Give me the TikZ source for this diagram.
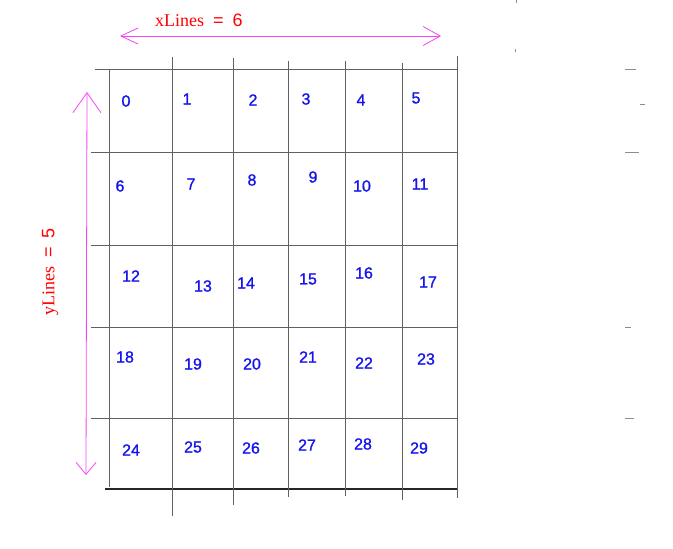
\documentclass[tikz,border=0pt]{standalone}
\usepackage{fontspec}
\setmainfont{Liberation Serif}
\setsansfont{Liberation Sans}
\newfontfamily\numfont[FakeBold=1.2]{Liberation Sans}
\usepackage{tikz}
\usetikzlibrary{arrows.meta}

\definecolor{spanpink}{RGB}{245,70,245}
\definecolor{cellblue}{RGB}{20,20,235}
\tikzset{
  gridline/.style={line width=0.9pt, black!62},
  cellnum/.style={text=cellblue, font=\numfont\fontsize{16}{16}\selectfont, inner sep=0pt},
  spanline/.style={spanpink, line width=0.8pt},
  spanlabel/.style={text=red, inner sep=0pt, font=\fontsize{18}{18}\selectfont},
  stray/.style={black!45, line width=1pt}
}

\begin{document}
\begin{tikzpicture}[x=1pt, y=-1pt]
\useasboundingbox (0,0) rectangle (673,549);
% rows
\draw[gridline] (95,69) -- (458,69);
\draw[gridline] (91,152) -- (458,152);
\draw[gridline] (91,245) -- (458,245);
\draw[gridline] (91,327) -- (458,327);
\draw[gridline] (91,418) -- (458,418);
\draw[line width=1.1pt, black!85] (105,489) -- (458,489);
% columns
\draw[gridline] (109,69) -- (109,487);
\draw[gridline] (172,57) -- (172,516);
\draw[gridline] (233,58) -- (233,505);
\draw[gridline] (288,61) -- (288,497);
\draw[gridline] (345,61) -- (345,496);
\draw[gridline] (402,63) -- (402,500);
\draw[gridline] (457,56) -- (457,498);
% cell numbers
\node[cellnum] (c0) at (126,101) {0};
\node[cellnum] (c1) at (187,99) {1};
\node[cellnum] (c2) at (253,100) {2};
\node[cellnum] (c3) at (306,99) {3};
\node[cellnum] (c4) at (361,100) {4};
\node[cellnum] (c5) at (416,98) {5};
\node[cellnum] (c6) at (120,186) {6};
\node[cellnum] (c7) at (191,184) {7};
\node[cellnum] (c8) at (252,180) {8};
\node[cellnum] (c9) at (313,177) {9};
\node[cellnum] (c10) at (362,186) {10};
\node[cellnum] (c11) at (420,184) {11};
\node[cellnum] (c12) at (131,276) {12};
\node[cellnum] (c13) at (203,286) {13};
\node[cellnum] (c14) at (246,283) {14};
\node[cellnum] (c15) at (308,279) {15};
\node[cellnum] (c16) at (364,273) {16};
\node[cellnum] (c17) at (428,282) {17};
\node[cellnum] (c18) at (125,357) {18};
\node[cellnum] (c19) at (193,364) {19};
\node[cellnum] (c20) at (252,364) {20};
\node[cellnum] (c21) at (308,357) {21};
\node[cellnum] (c22) at (364,363) {22};
\node[cellnum] (c23) at (426,359) {23};
\node[cellnum] (c24) at (131,450) {24};
\node[cellnum] (c25) at (193,447) {25};
\node[cellnum] (c26) at (251,448) {26};
\node[cellnum] (c27) at (307,445) {27};
\node[cellnum] (c28) at (363,444) {28};
\node[cellnum] (c29) at (419,448) {29};
% spans
\coordinate (xleft) at (120,36);
\coordinate (xright) at (441,36);
\draw[spanline, {Straight Barb[length=17pt,width=16pt]}-{Straight Barb[length=17pt,width=19pt]}] (xleft) -- (xright);
\node[spanlabel] (xlab) at (199,20) {xLines\hspace{9pt}\sffamily=\hspace{9pt}6};
\coordinate (ytop) at (87,92);
\coordinate (ybot) at (86,475);
\draw[spanline, {Straight Barb[length=20pt,width=28pt]}-{Straight Barb[length=12pt,width=20pt]}] (ytop) -- (ybot);
\node[spanlabel, rotate=90] (ylab) at (50,272) {yLines\hspace{9pt}\sffamily=\hspace{9pt}5};
% stray marks
\draw[stray] (625,69) -- (636,69);
\draw[stray] (640,104.5) -- (645,104.5);
\draw[stray] (625,152) -- (639,152);
\draw[stray] (625,327) -- (631,327);
\draw[stray] (625,418) -- (634,418);
\draw[stray] (516,0) -- (516,3);
\draw[stray] (515,49) -- (515,52);
\end{tikzpicture}
\end{document}
